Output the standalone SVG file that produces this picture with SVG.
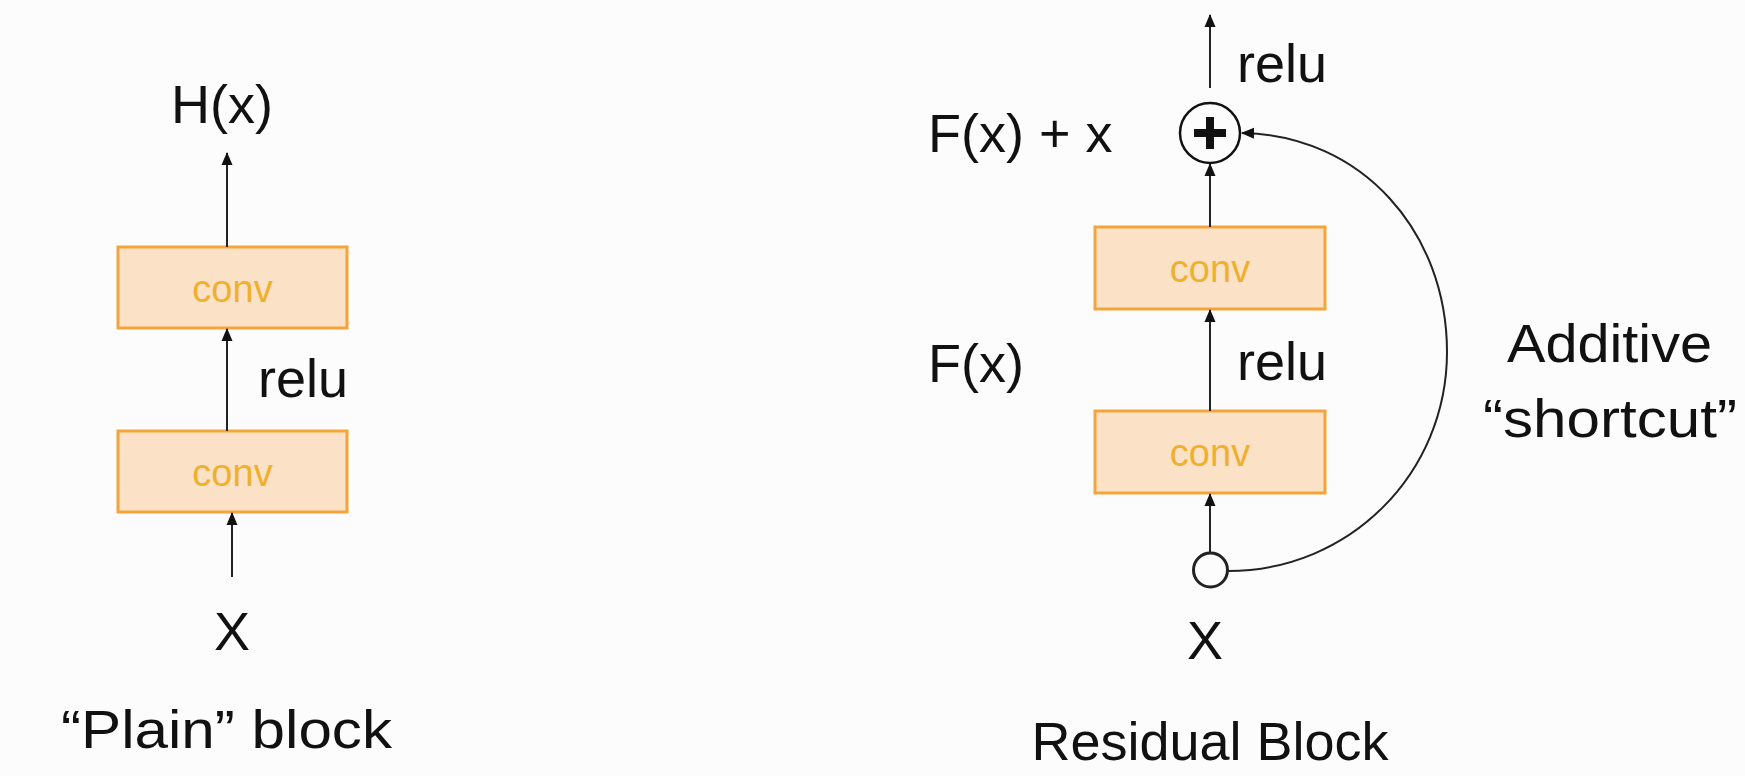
<svg xmlns="http://www.w3.org/2000/svg" width="1745" height="776" viewBox="0 0 1745 776">
<defs>
<marker id="ah" viewBox="0 0 13 12" refX="12" refY="6" markerWidth="13" markerHeight="12" markerUnits="userSpaceOnUse" orient="auto">
<path d="M0,0.5 L13,6 L0,11.5 Z" fill="#111"/>
</marker>
<style>
.box{fill:#FBE1C5;stroke:#F5A43A;stroke-width:3}
.conv{font-family:"Liberation Sans",Arial,sans-serif;font-size:38px;fill:#EFB02E;text-anchor:middle}
.lbl{font-family:"Liberation Sans",Arial,sans-serif;font-size:54px;fill:#111}
.edge{stroke:#222;stroke-width:2;fill:none}
</style>
</defs>
<rect width="1745" height="776" fill="#FBFCFB"/>

<g id="plain-conv-top">
<rect class="box" x="118" y="247" width="229" height="81"/>
<text class="conv" x="232.5" y="302">conv</text>
</g>
<g id="plain-conv-bottom">
<rect class="box" x="118" y="431" width="229" height="81"/>
<text class="conv" x="232.5" y="486">conv</text>
</g>

<g id="res-plus">
<circle cx="1210" cy="133" r="30" fill="#FBFCFB" stroke="#111" stroke-width="2.5"/>
<path d="M1194,133 H1226 M1210,117 V149" stroke="#111" stroke-width="8"/>
</g>
<g id="res-conv-top">
<rect class="box" x="1095" y="227" width="230" height="82"/>
<text class="conv" x="1210" y="282">conv</text>
</g>
<g id="res-conv-bottom">
<rect class="box" x="1095" y="411" width="230" height="82"/>
<text class="conv" x="1210" y="466">conv</text>
</g>
<g id="res-input">
<circle cx="1210.5" cy="570" r="17" fill="#FBFCFB" stroke="#222" stroke-width="3"/>
</g>

<g id="connectors">
<line class="edge" x1="227" y1="247" x2="227" y2="153" marker-end="url(#ah)"/>
<line class="edge" x1="227" y1="431" x2="227" y2="329" marker-end="url(#ah)"/>
<line class="edge" x1="232" y1="577" x2="232" y2="513" marker-end="url(#ah)"/>
<line class="edge" x1="1210" y1="88" x2="1210" y2="15" marker-end="url(#ah)"/>
<line class="edge" x1="1210" y1="227" x2="1210" y2="164" marker-end="url(#ah)"/>
<line class="edge" x1="1210" y1="411" x2="1210" y2="310" marker-end="url(#ah)"/>
<line class="edge" x1="1210" y1="553" x2="1210" y2="494" marker-end="url(#ah)"/>
<path class="edge" stroke-width="2.8" d="M1228,571 C1350,571 1447,473 1447,352 C1447,232 1362,135 1242,133" marker-end="url(#ah)"/>
</g>

<g id="labels">
<text class="lbl" x="222" y="123" text-anchor="middle">H(x)</text>
<text class="lbl" x="258" y="397">relu</text>
<text class="lbl" x="232" y="650" text-anchor="middle">X</text>
<text class="lbl" x="61" y="748" font-size="58" textLength="331" lengthAdjust="spacingAndGlyphs">“Plain” block</text>
<text class="lbl" x="928" y="152" font-size="53">F(x) + x</text>
<text class="lbl" x="928" y="382" font-size="53">F(x)</text>
<text class="lbl" x="1237" y="82">relu</text>
<text class="lbl" x="1237" y="380">relu</text>
<text class="lbl" x="1205" y="659" text-anchor="middle">X</text>
<text class="lbl" x="1210" y="760" text-anchor="middle" font-size="54">Residual Block</text>
<text class="lbl" x="1507" y="362" font-size="57" textLength="205" lengthAdjust="spacingAndGlyphs">Additive</text>
<text class="lbl" x="1483" y="437" font-size="57" textLength="254" lengthAdjust="spacingAndGlyphs">“shortcut”</text>
</g>
</svg>
